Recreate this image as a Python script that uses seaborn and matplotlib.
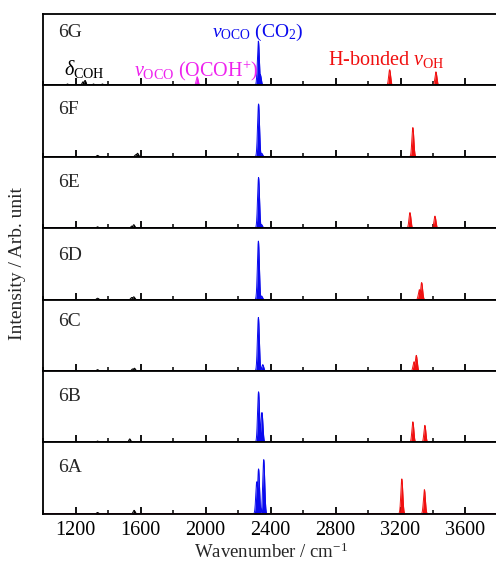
import numpy as np
import pandas as pd
import matplotlib
matplotlib.use("Agg")
import matplotlib.pyplot as plt
from matplotlib.ticker import MultipleLocator
import seaborn as sns

# panel names, top to bottom
panels = ["6G", "6F", "6E", "6D", "6C", "6B", "6A"]

# peak positions (cm-1) and relative intensities
black_pos = {
    "6G": [1150, 1245, 1258, 1310, 1365],
    "6F": [1335, 1570, 1581],
    "6E": [1335, 1545, 1558],
    "6D": [1335, 1545, 1558],
    "6C": [1335, 1550, 1562],
    "6B": [1335, 1533],
    "6A": [1335, 1560],
}
black_int = {
    "6G": [0.02, 0.05, 0.07, 0.02, 0.02],
    "6F": [0.02, 0.03, 0.05],
    "6E": [0.02, 0.03, 0.05],
    "6D": [0.02, 0.03, 0.04],
    "6C": [0.02, 0.03, 0.04],
    "6B": [0.02, 0.05],
    "6A": [0.02, 0.05],
}
blue_pos = {
    "6G": [2325, 2337],
    "6F": [2326, 2345],
    "6E": [2326, 2345],
    "6D": [2325, 2345],
    "6C": [2325, 2352],
    "6B": [2326, 2347],
    "6A": [2315, 2326, 2358],
}
blue_int = {
    "6G": [0.62, 0.15],
    "6F": [0.74, 0.05],
    "6E": [0.71, 0.05],
    "6D": [0.82, 0.05],
    "6C": [0.75, 0.09],
    "6B": [0.71, 0.42],
    "6A": [0.45, 0.63, 0.76],
}
red_pos = {
    "6G": [3133, 3418],
    "6F": [3276],
    "6E": [3258, 3412],
    "6D": [3316, 3330],
    "6C": [3283, 3297],
    "6B": [3276, 3350],
    "6A": [3208, 3347],
}
red_int = {
    "6G": [0.22, 0.19],
    "6F": [0.41],
    "6E": [0.22, 0.17],
    "6D": [0.14, 0.24],
    "6C": [0.13, 0.22],
    "6B": [0.29, 0.24],
    "6A": [0.49, 0.34],
}
magenta_pos = {"6G": [1948]}
magenta_int = {"6G": [0.12]}

label_y = {"6G": 0.74, "6F": 0.66, "6E": 0.64, "6D": 0.62, "6C": 0.69, "6B": 0.65, "6A": 0.65}

colors = {"black": "black", "blue": "#0a0aee", "red": "#f01010", "magenta": "#ee22ee"}
wn = np.arange(1000, 3800.5, 0.5)
sigma = 6.0


def broaden(pos, inten):
    y = np.zeros_like(wn)
    for p, h in zip(pos, inten):
        y = np.maximum(y, h * np.exp(-0.5 * ((wn - p) / sigma) ** 2))
    return y


sns.set_theme(style="ticks")
plt.rcParams["font.family"] = ["Liberation Serif", "DejaVu Serif"]
plt.rcParams["mathtext.fontset"] = "custom"
plt.rcParams["mathtext.rm"] = "Liberation Serif"
plt.rcParams["mathtext.it"] = "Liberation Serif:italic"
plt.rcParams["axes.linewidth"] = 1.3

fig, axes = plt.subplots(len(panels), 1, figsize=(4.96, 5.71), dpi=100, sharex=True)
fig.subplots_adjust(left=0.087, right=1.004, top=0.9755, bottom=0.1, hspace=0)

for ax, name in zip(axes, panels):
    groups = [("black", black_pos, black_int), ("magenta", magenta_pos, magenta_int),
              ("blue", blue_pos, blue_int), ("red", red_pos, red_int)]
    for cname, pos_d, int_d in groups:
        if name not in pos_d:
            continue
        y = broaden(pos_d[name], int_d[name])
        df = pd.DataFrame({"wn": wn, "I": y})
        ax.fill_between(wn, 0, y, color=colors[cname], lw=0)
        sns.lineplot(data=df, x="wn", y="I", ax=ax, color=colors[cname], lw=0.7)
    ax.set_xlim(1000, 3800)
    ax.set_ylim(0, 1)
    ax.set_yticks([])
    ax.set_ylabel("")
    ax.set_xlabel("")
    ax.xaxis.set_major_locator(MultipleLocator(400))
    ax.xaxis.set_minor_locator(MultipleLocator(200))
    ax.tick_params(axis="x", which="major", direction="in", length=5, width=1.3,
                   labelsize=14.5, colors="black", pad=5)
    ax.tick_params(axis="x", which="minor", direction="in", length=3, width=1.3)
    for s in ax.spines.values():
        s.set_color("black")
    ax.text(0.033, label_y[name], name, transform=ax.transAxes, fontsize=14,
            ha="left", va="center")

axes[-1].set_xlabel("Wavenumber / cm$^{-1}$", fontsize=13.5, labelpad=2)
fig.text(0.036, 0.538, "Intensity / Arb. unit", rotation=90, fontsize=14,
         ha="center", va="center")

top = axes[0]
trans = top.get_xaxis_transform()
top.text(1130, 0.14, r"$\delta_{\rm COH}$", transform=trans, fontsize=14.5,
         ha="left", va="baseline", color="black")
top.text(1558, 0.125, r"$v_{\rm OCO}$ (OCOH$^{+}$)", transform=trans, fontsize=14.5,
         ha="left", va="baseline", color=colors["magenta"])
top.text(2042, 0.68, r"$v_{\rm OCO}$ (CO$_2$)", transform=trans, fontsize=14,
         ha="left", va="baseline", color=colors["blue"])
top.text(2755, 0.28, r"H-bonded $v_{\rm OH}$", transform=trans, fontsize=14.5,
         ha="left", va="baseline", color=colors["red"])

plt.savefig("out.png", dpi=100)
plt.close()
